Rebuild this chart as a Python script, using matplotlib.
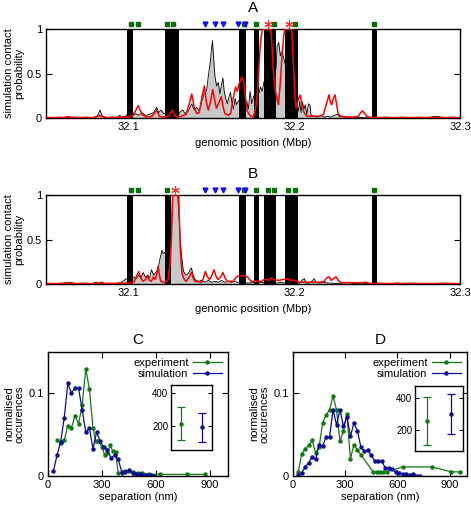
import matplotlib
matplotlib.use('Agg')
import matplotlib.pyplot as plt

plt.rcParams['font.family'] = ['Liberation Sans', 'DejaVu Sans']
plt.rcParams['font.size'] = 8

# ---- genomic panels: black regions, markers ----
bars_A = [(32.0992, 32.1026), (32.1217, 32.1301), (32.1663, 32.1705), (32.1755, 32.1785),
          (32.1819, 32.1890), (32.1946, 32.2020), (32.2466, 32.2498)]
bars_B = [(32.0992, 32.1026), (32.1217, 32.1257), (32.1663, 32.1705), (32.1755, 32.1785),
          (32.1819, 32.1890), (32.1946, 32.2020), (32.2466, 32.2498)]

green_A = [32.1012, 32.1056, 32.1231, 32.1267, 32.1695, 32.1769, 32.1876, 32.2004, 32.2482]
green_B = [32.1012, 32.1056, 32.1231, 32.1695, 32.1769, 32.1839, 32.1875, 32.1964, 32.2004, 32.2482]
blue_marks = [32.1462, 32.1518, 32.1568, 32.1659, 32.1699]
red_A = [32.1839, 32.1970]
red_B = [32.1277]

# simulation contact probability, panel A
simA_pos = [32.050, 32.055, 32.058, 32.062, 32.066, 32.070, 32.074, 32.078, 32.081, 32.0826,
            32.084, 32.087, 32.090, 32.093, 32.0944, 32.096, 32.098, 32.0995, 32.103, 32.104,
            32.106, 32.108, 32.110, 32.112, 32.115, 32.1168, 32.118, 32.1195, 32.121, 32.125,
            32.1302, 32.131, 32.1325, 32.134, 32.136, 32.138, 32.1395, 32.141, 32.1425, 32.144,
            32.1455, 32.147, 32.148, 32.149, 32.1498, 32.1505, 32.1512, 32.152, 32.153, 32.154,
            32.155, 32.156, 32.1568, 32.1576, 32.1585, 32.1595, 32.1605, 32.1614, 32.1622, 32.1632,
            32.1642, 32.165, 32.1665, 32.1705, 32.1712, 32.1722, 32.1732, 32.1742, 32.1755, 32.1786,
            32.1795, 32.1805, 32.1815, 32.186, 32.1889, 32.1895, 32.1905, 32.1915, 32.1925, 32.1945,
            32.2020, 32.2025, 32.2032, 32.204, 32.2048, 32.2058, 32.2065, 32.2075, 32.2085, 32.2095,
            32.210, 32.212, 32.214, 32.216, 32.218, 32.220, 32.222, 32.224, 32.226, 32.2275,
            32.230, 32.233, 32.236, 32.240, 32.244, 32.250, 32.255, 32.260, 32.265, 32.270,
            32.275, 32.280, 32.286, 32.290, 32.295, 32.300]
simA_val = [0.01, 0.005, 0.01, 0.005, 0.01, 0.005, 0.01, 0.005, 0.02, 0.09,
            0.02, 0.005, 0.01, 0.005, 0.03, 0.01, 0.02, 0.05, 0.03, 0.05,
            0.03, 0.06, 0.03, 0.04, 0.06, 0.12, 0.06, 0.09, 0.05, 0.05,
            0.04, 0.07, 0.09, 0.05, 0.08, 0.16, 0.09, 0.12, 0.08, 0.18,
            0.28, 0.31, 0.47, 0.60, 0.75, 0.87, 0.68, 0.47, 0.36, 0.40,
            0.27, 0.38, 0.45, 0.30, 0.22, 0.16, 0.24, 0.29, 0.18, 0.10,
            0.22, 0.15, 0.20, 0.15, 0.19, 0.10, 0.30, 0.16, 0.25, 0.28,
            0.35, 0.30, 0.40, 0.60, 0.55, 0.80, 0.85, 0.70, 0.75, 0.60,
            0.12, 0.08, 0.19, 0.06, 0.18, 0.10, 0.15, 0.04, 0.16, 0.14,
            0.03, 0.02, 0.01, 0.03, 0.01, 0.02, 0.01, 0.03, 0.04, 0.01,
            0.02, 0.01, 0.01, 0.005, 0.01, 0.005, 0.01, 0.005, 0.01, 0.005,
            0.01, 0.005, 0.02, 0.005, 0.01, 0.005]

# red curve, panel A
redA_pos = [32.050, 32.060, 32.063, 32.066, 32.080, 32.0826, 32.085, 32.0987, 32.102, 32.104,
            32.1057, 32.1072, 32.1084, 32.111, 32.114, 32.1168, 32.1185, 32.120, 32.124, 32.1263,
            32.128, 32.130, 32.1345, 32.1365, 32.138, 32.1395, 32.141, 32.1425, 32.144, 32.1456,
            32.1468, 32.148, 32.1493, 32.1507, 32.152, 32.153, 32.1545, 32.1558, 32.157, 32.158,
            32.160, 32.1615, 32.163, 32.1645, 32.1655, 32.1665, 32.1682, 32.1695, 32.1705, 32.1715,
            32.173, 32.1752, 32.1765, 32.1775, 32.1785, 32.1795, 32.1806, 32.1857, 32.1865, 32.1873,
            32.1885, 32.1903, 32.1913, 32.1923, 32.1935, 32.1943, 32.1984, 32.1994, 32.2003, 32.201,
            32.2022, 32.2034, 32.2046, 32.2058, 32.2075, 32.2094, 32.215, 32.2175, 32.2195, 32.2209,
            32.2218, 32.2225, 32.2235, 32.2245, 32.2255, 32.2265, 32.2295, 32.236, 32.2386, 32.240,
            32.241, 32.2425, 32.2437, 32.2457, 32.300]
redA_val = [0.005, 0.005, 0.015, 0.005, 0.005, 0.03, 0.005, 0.01, 0.02, 0.08,
            0.14, 0.07, 0.03, 0.01, 0.02, 0.09, 0.02, 0.01, 0.02, 0.09,
            0.02, 0.01, 0.04, 0.16, 0.27, 0.12, 0.05, 0.06, 0.22, 0.36,
            0.18, 0.09, 0.18, 0.32, 0.18, 0.11, 0.18, 0.24, 0.12, 0.05,
            0.03, 0.05, 0.22, 0.35, 0.30, 0.38, 0.46, 0.40, 0.22, 0.08,
            0.03, 0.01, 0.10, 0.26, 0.55, 0.85, 1.0, 1.0, 0.80, 0.52,
            0.30, 0.15, 0.35, 0.64, 0.92, 1.0, 1.0, 0.60, 0.25, 0.11,
            0.20, 0.26, 0.15, 0.06, 0.02, 0.02, 0.02, 0.04, 0.17, 0.26,
            0.17, 0.15, 0.22, 0.26, 0.15, 0.04, 0.01, 0.01, 0.02, 0.06,
            0.08, 0.05, 0.02, 0.005, 0.005]

# simulation contact probability, panel B
simB_pos = [32.050, 32.055, 32.060, 32.0645, 32.068, 32.072, 32.078, 32.0805, 32.083, 32.088,
            32.092, 32.0956, 32.0985, 32.102, 32.1032, 32.1045, 32.106, 32.1075, 32.1086, 32.110,
            32.1115, 32.1125, 32.1137, 32.115, 32.1167, 32.118, 32.119, 32.120, 32.1207, 32.125,
            32.1257, 32.1265, 32.1295, 32.1305, 32.1311, 32.132, 32.133, 32.1345, 32.136, 32.137,
            32.1378, 32.1388, 32.140, 32.142, 32.144, 32.146, 32.148, 32.150, 32.152, 32.154,
            32.156, 32.158, 32.160, 32.162, 32.164, 32.1655, 32.170, 32.172, 32.175, 32.178,
            32.180, 32.189, 32.192, 32.194, 32.2015, 32.203, 32.205, 32.206, 32.207, 32.209,
            32.211, 32.212, 32.213, 32.215, 32.218, 32.220, 32.223, 32.225, 32.230, 32.232,
            32.235, 32.240, 32.246, 32.250, 32.260, 32.270, 32.280, 32.290, 32.300]
simB_val = [0.01, 0.005, 0.01, 0.02, 0.005, 0.01, 0.005, 0.02, 0.005, 0.01,
            0.005, 0.02, 0.06, 0.06, 0.08, 0.06, 0.10, 0.07, 0.13, 0.08,
            0.10, 0.07, 0.16, 0.10, 0.14, 0.20, 0.30, 0.38, 0.34, 0.40,
            0.60, 1.0, 1.0, 0.70, 0.48, 0.29, 0.14, 0.10, 0.12, 0.16,
            0.18, 0.10, 0.05, 0.03, 0.04, 0.02, 0.04, 0.02, 0.03, 0.02,
            0.04, 0.02, 0.03, 0.02, 0.03, 0.02, 0.02, 0.01, 0.02, 0.01,
            0.02, 0.01, 0.02, 0.01, 0.02, 0.01, 0.05, 0.06, 0.01, 0.01,
            0.04, 0.06, 0.02, 0.01, 0.02, 0.01, 0.01, 0.005, 0.01, 0.02,
            0.005, 0.01, 0.005, 0.01, 0.005, 0.01, 0.005, 0.01, 0.005]

# red curve, panel B
redB_pos = [32.050, 32.060, 32.0635, 32.067, 32.0815, 32.0835, 32.0855, 32.100, 32.103, 32.1045,
            32.106, 32.1075, 32.1086, 32.110, 32.1112, 32.1125, 32.1135, 32.115, 32.116, 32.117,
            32.1177, 32.1185, 32.1193, 32.1217, 32.1237, 32.125, 32.1257, 32.1265, 32.1301, 32.1311,
            32.1321, 32.1335, 32.1347, 32.1365, 32.1378, 32.139, 32.1398, 32.1438, 32.145, 32.1462,
            32.1475, 32.1488, 32.150, 32.1514, 32.1526, 32.1538, 32.1555, 32.1568, 32.158, 32.1594,
            32.1629, 32.1645, 32.1659, 32.1675, 32.1689, 32.170, 32.1715, 32.1739, 32.180, 32.1815,
            32.183, 32.1845, 32.186, 32.1875, 32.190, 32.193, 32.196, 32.198, 32.200, 32.203,
            32.205, 32.210, 32.215, 32.218, 32.2195, 32.2211, 32.2222, 32.2235, 32.2251, 32.2265,
            32.2281, 32.240, 32.243, 32.2462, 32.260, 32.262, 32.264, 32.300]
redB_val = [0.005, 0.005, 0.012, 0.005, 0.005, 0.02, 0.005, 0.01, 0.02, 0.08,
            0.14, 0.06, 0.03, 0.05, 0.09, 0.04, 0.03, 0.08, 0.05, 0.12,
            0.20, 0.10, 0.03, 0.015, 0.05, 0.25, 0.50, 1.0, 1.0, 0.38,
            0.12, 0.05, 0.03, 0.08, 0.13, 0.06, 0.03, 0.02, 0.06, 0.14,
            0.08, 0.05, 0.09, 0.16, 0.09, 0.05, 0.08, 0.13, 0.07, 0.03,
            0.03, 0.07, 0.09, 0.09, 0.10, 0.09, 0.08, 0.03, 0.03, 0.05,
            0.05, 0.04, 0.07, 0.05, 0.04, 0.05, 0.06, 0.04, 0.04, 0.02,
            0.02, 0.02, 0.02, 0.03, 0.07, 0.08, 0.04, 0.06, 0.08, 0.04,
            0.015, 0.015, 0.02, 0.005, 0.005, 0.012, 0.005, 0.005]

# ---- separation histograms ----
C_sim_x = [30, 50, 70, 90, 110, 130, 150, 170, 190, 210, 230, 250, 270, 290, 310, 330, 350, 370,
           390, 410, 430, 450, 470, 490, 510, 530, 550, 570, 590]
C_sim_y = [0.006, 0.025, 0.041, 0.070, 0.112, 0.100, 0.107, 0.106, 0.080, 0.053, 0.058, 0.033,
           0.053, 0.042, 0.035, 0.032, 0.022, 0.025, 0.020, 0.005, 0.005, 0.007, 0.004, 0.003,
           0.002, 0.001, 0.001, 0.001, 0.0]
C_exp_x = [50, 70, 90, 110, 130, 150, 170, 190, 210, 230, 250, 265, 280, 300, 315, 330, 345, 360,
           375, 390, 410, 430, 450, 470, 500, 520, 560, 620, 770, 870]
C_exp_y = [0.043, 0.040, 0.043, 0.061, 0.058, 0.073, 0.063, 0.086, 0.130, 0.105, 0.058, 0.042,
           0.042, 0.035, 0.025, 0.028, 0.037, 0.030, 0.029, 0.004, 0.004, 0.006, 0.006, 0.005,
           0.004, 0.004, 0.002, 0.002, 0.002, 0.002]
D_sim_x = [30, 50, 70, 90, 110, 130, 150, 170, 190, 210, 230, 250, 270, 290, 310, 330, 350, 370,
           390, 410, 430, 450, 470, 490, 510, 530, 550, 570, 590, 610, 630, 650, 670, 690, 710, 730]
D_sim_y = [0.001, 0.004, 0.011, 0.016, 0.023, 0.020, 0.038, 0.036, 0.047, 0.047, 0.080, 0.062,
           0.080, 0.060, 0.072, 0.048, 0.064, 0.055, 0.035, 0.030, 0.031, 0.025, 0.018, 0.018,
           0.018, 0.010, 0.010, 0.008, 0.005, 0.004, 0.002, 0.003, 0.001, 0.002, 0.0005, 0.0]
D_exp_x = [30, 50, 70, 90, 110, 130, 150, 170, 190, 210, 230, 250, 270, 290, 310, 330, 350, 370,
           390, 460, 480, 500, 520, 540, 630, 800, 910, 960]
D_exp_y = [0.005, 0.027, 0.033, 0.037, 0.043, 0.028, 0.035, 0.064, 0.074, 0.080, 0.097, 0.080,
           0.042, 0.055, 0.075, 0.021, 0.038, 0.032, 0.026, 0.005, 0.005, 0.005, 0.005, 0.005,
           0.011, 0.011, 0.005, 0.005]

# inset: mean and spread (experiment, simulation)
C_mean = [212, 194]
C_low = [109, 97]
C_high = [315, 279]
D_mean = [256, 300]
D_low = [106, 175]
D_high = [406, 425]

green = '#127a12'
blue = '#0c0c9a'

fig = plt.figure(figsize=(4.71, 5.05), dpi=100)
axA = fig.add_axes([0.0977, 0.7663, 0.879, 0.1762])
axB = fig.add_axes([0.0977, 0.4376, 0.879, 0.1762])
axC = fig.add_axes([0.1019, 0.0574, 0.3822, 0.2455])
axD = fig.add_axes([0.6221, 0.0574, 0.3694, 0.2455])
insC = fig.add_axes([0.3631, 0.1089, 0.087, 0.1287])
insD = fig.add_axes([0.8811, 0.1069, 0.1019, 0.1287])


def genomic(ax, title, bars, sp, sv, rp, rv, greens, reds):
    ax.fill_between(sp, 0, sv, color='#c8c8c8', lw=0, zorder=1)
    ax.plot(sp, sv, color='black', lw=0.6, zorder=2)
    for a, b in bars:
        ax.axvspan(a, b, color='black', lw=0, zorder=3)
    ax.plot(rp, rv, color='red', lw=1.1, zorder=4)
    ax.plot(greens, [1.06] * len(greens), 's', color='#0a6e0a', ms=2.6, clip_on=False, zorder=5)
    ax.plot(blue_marks, [1.06] * len(blue_marks), 'v', color='#1010ff', ms=3.5, clip_on=False, zorder=5)
    ax.plot(reds, [1.06] * len(reds), marker=(6, 2, 0), ls='none', color='#ff3030', ms=6,
            mew=0.8, clip_on=False, zorder=6)
    ax.set_xlim(32.05, 32.3)
    ax.set_ylim(0, 1)
    ax.set_xticks([32.1, 32.2, 32.3])
    ax.set_xticklabels(['32.1', '32.2', '32.3'])
    ax.set_yticks([0, 0.5, 1])
    ax.set_yticklabels(['0', '0.5', '1'])
    ax.tick_params(direction='in', top=True, right=True, length=4, width=0.8, pad=3, labelsize=8)
    ax.set_xlabel('genomic position (Mbp)', fontsize=8, labelpad=4)
    ax.set_ylabel('simulation contact\nprobability', fontsize=8, labelpad=2, linespacing=0.95)
    ax.set_title(title, fontsize=11, pad=12)
    for s in ax.spines.values():
        s.set_linewidth(1.0)


genomic(axA, 'A', bars_A, simA_pos, simA_val, redA_pos, redA_val, green_A, red_A)
genomic(axB, 'B', bars_B, simB_pos, simB_val, redB_pos, redB_val, green_B, red_B)


def separation(ax, ins, title, ex, ey, sx, sy, mean, low, high, ylim):
    ax.plot(ex, ey, '-o', color=green, lw=0.9, ms=2.2, label='experiment')
    ax.plot(sx, sy, '-o', color=blue, lw=0.9, ms=2.2, label='simulation')
    ax.set_xlim(0, 1000)
    ax.set_ylim(0, 0.15)
    ax.set_xticks([0, 300, 600, 900])
    ax.set_yticks([0, 0.1])
    ax.set_yticklabels(['0', '0.1'])
    ax.tick_params(direction='in', top=True, right=True, length=4, width=0.8, pad=3, labelsize=8)
    ax.set_xlabel('separation (nm)', fontsize=8, labelpad=1)
    ax.set_ylabel('normalised\noccurences', fontsize=8, labelpad=3, linespacing=0.95)
    ax.set_title(title, fontsize=11, pad=6)
    ax.legend(loc='upper right', frameon=False, markerfirst=False, fontsize=8,
              handlelength=2.6, handletextpad=0.4, labelspacing=0.1, borderaxespad=0.15)
    for s in ax.spines.values():
        s.set_linewidth(1.0)
    cols = [green, blue]
    for i in range(2):
        ins.errorbar([i + 1], [mean[i]], yerr=[[mean[i] - low[i]], [high[i] - mean[i]]],
                     fmt='o', color=cols[i], ms=2.2, lw=0.9, capsize=3, capthick=0.9)
    ins.set_xlim(0.5, 2.5)
    ins.set_ylim(*ylim)
    ins.set_xticks([])
    ins.set_yticks([200, 400])
    ins.tick_params(direction='in', right=True, length=3, width=0.8, pad=2, labelsize=7)
    for s in ins.spines.values():
        s.set_linewidth(1.0)


separation(axC, insC, 'C', C_exp_x, C_exp_y, C_sim_x, C_sim_y, C_mean, C_low, C_high, (50, 450))
separation(axD, insD, 'D', D_exp_x, D_exp_y, D_sim_x, D_sim_y, D_mean, D_low, D_high, (70, 475))

fig.savefig('out.png', dpi=100)
